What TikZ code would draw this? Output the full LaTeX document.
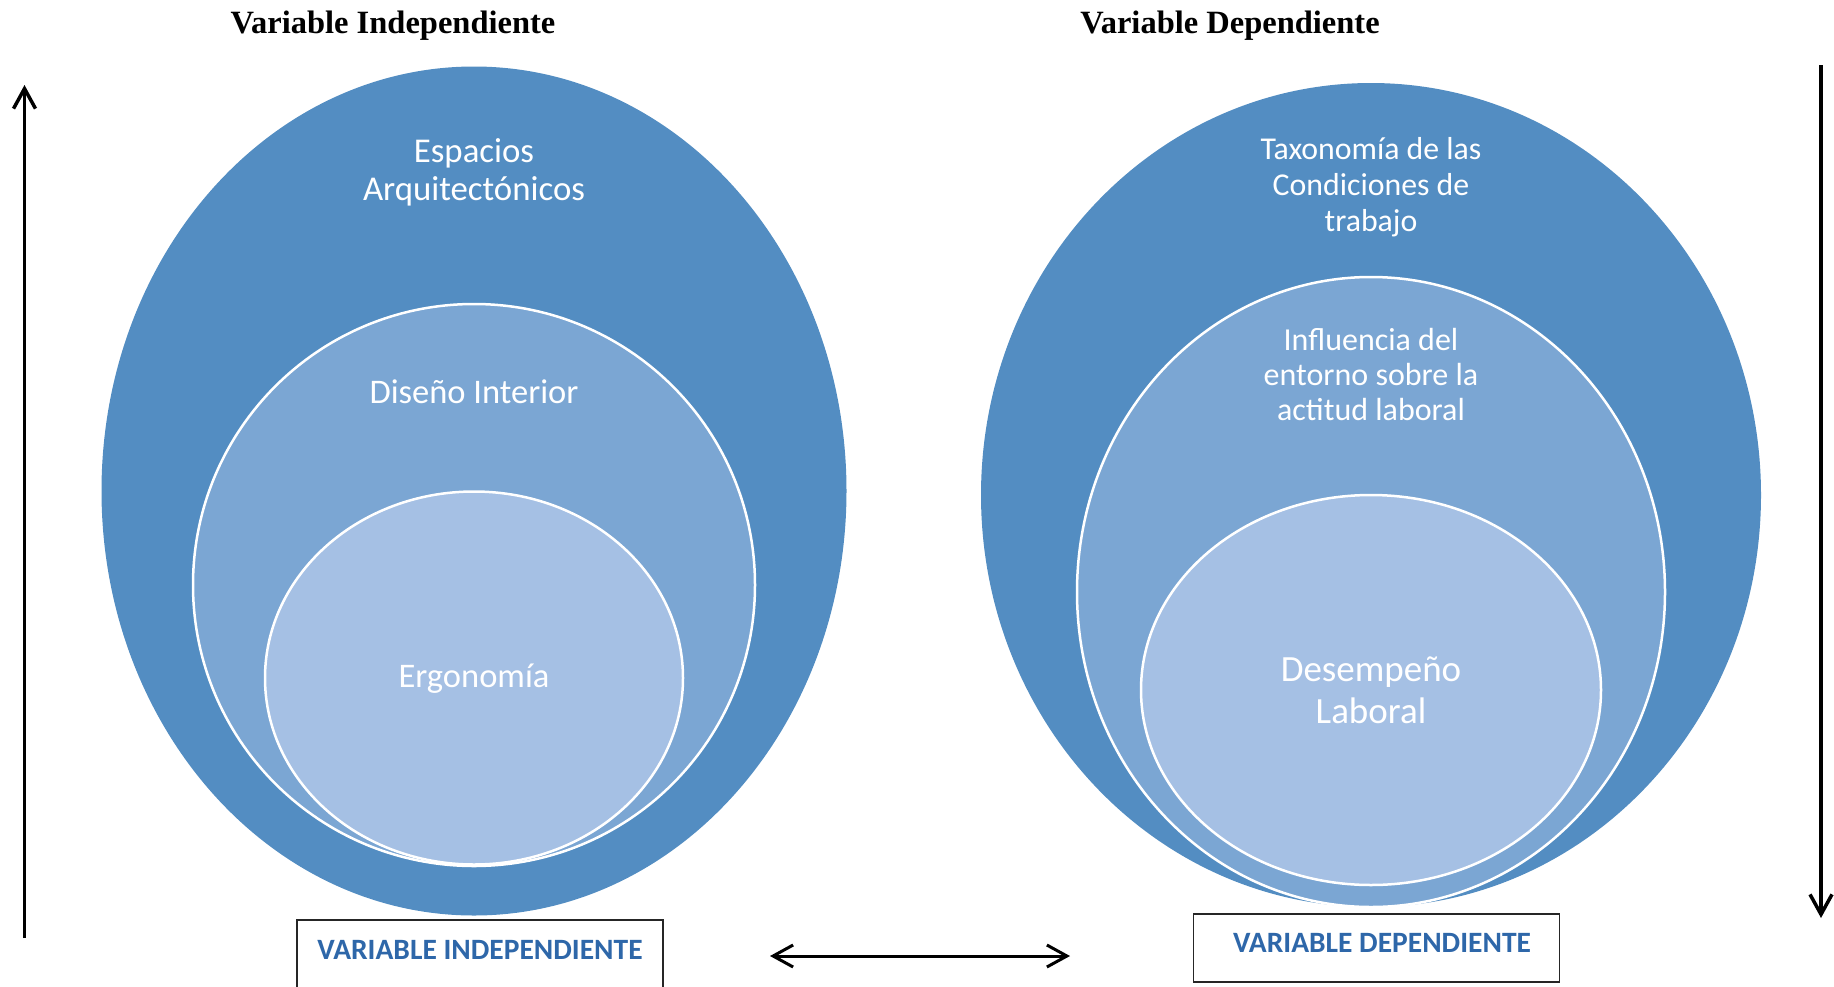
\documentclass[tikz,border=0pt]{standalone}
\usepackage{fontspec}
\setmainfont{Carlito}
\newfontfamily\titlefont{Liberation Serif}
\usetikzlibrary{arrows.meta,shapes.geometric}

\definecolor{outerblue}{HTML}{538DC2}
\definecolor{midblue}{HTML}{7BA6D3}
\definecolor{innerblue}{HTML}{A5C0E4}
\definecolor{labelblue}{HTML}{2E67A9}

\begin{document}
\begin{tikzpicture}[x=1pt,y=-1pt,>={Straight Barb[length=20pt,width=22pt]},
                    inner sep=0pt]
  \tikzstyle{outer}=[ellipse,fill=outerblue]
  \tikzstyle{middle}=[ellipse,fill=midblue,draw=white,line width=2.5pt]
  \tikzstyle{inner}=[ellipse,fill=innerblue,draw=white,line width=2.5pt]
  \tikzstyle{circle text}=[text=white,align=center]
  \tikzstyle{title}=[font=\titlefont\bfseries\fontsize{32.5}{38}\selectfont]
  \tikzstyle{varbox}=[draw=black!85,line width=1.5pt,minimum width=366pt,
                      text=labelblue,font=\bfseries\fontsize{29.5}{34}\selectfont]
  \tikzstyle{axis}=[line width=3.5pt]

  \useasboundingbox (0,0) rectangle (1834,986);

  % variable independiente
  \node[outer,minimum width=745pt,minimum height=849pt]  (esp) at (474,491) {};
  \node[middle,minimum width=562pt,minimum height=562pt] (dis) at (474,585) {};
  \node[inner,minimum width=418pt,minimum height=373pt]  (erg) at (474,678) {};

  \node[circle text,font=\fontsize{34.8}{38.5}\selectfont] (esptext) at (474,172.5)
       {Espacios\\Arquitectónicos};
  \node[circle text,font=\fontsize{34.5}{38}\selectfont] (distext) at (474,391.5)
       {Diseño Interior};
  \node[circle text,font=\fontsize{34.5}{38}\selectfont] (ergtext) at (474,678.5)
       {Ergonomía};

  % variable dependiente
  \node[outer,minimum width=780pt,minimum height=824pt]  (tax) at (1371,495) {};
  \node[middle,minimum width=588pt,minimum height=630pt] (inf) at (1371,592) {};
  \node[inner,minimum width=460pt,minimum height=390pt]  (des) at (1371,690) {};

  \node[circle text,font=\fontsize{31.8}{36}\selectfont] (taxtext) at (1371,187)
       {Taxonomía de las\\Condiciones de\\trabajo};
  \node[circle text,font=\fontsize{32}{35}\selectfont] (inftext) at (1371,374.5)
       {Influencia del\\entorno sobre la\\actitud laboral};
  \node[circle text,font=\fontsize{37}{42}\selectfont] (destext) at (1371,690)
       {Desempeño\\Laboral};

  % titulos
  \node[title] (titind) at (393,25.5) {Variable Independiente};
  \node[title] (titdep) at (1230,25.5) {Variable Dependiente};

  % recuadros
  \node[varbox,minimum height=70pt] (boxind) at (480,955) {};
  \node[varbox,minimum height=68pt] (boxdep) at (1376.5,948) {};
  \node[text=labelblue,font=\bfseries\fontsize{29.5}{34}\selectfont]
       (indlabel) at (480,950) {VARIABLE INDEPENDIENTE};
  \node[text=labelblue,font=\bfseries\fontsize{29.5}{34}\selectfont]
       (deplabel) at (1382,943) {VARIABLE DEPENDIENTE};

  % flechas
  \coordinate (upbot) at (24.5,938);
  \coordinate (uptop) at (24.5,85);
  \coordinate (downtop) at (1821,65);
  \coordinate (downbot) at (1821,918);
  \coordinate (relL) at (770,956);
  \coordinate (relR) at (1070,956);

  \draw[axis,->] (upbot) -- (uptop);
  \draw[axis,->] (downtop) -- (downbot);
  \draw[line width=3pt,<->] (relL) -- (relR);
\end{tikzpicture}
\end{document}
